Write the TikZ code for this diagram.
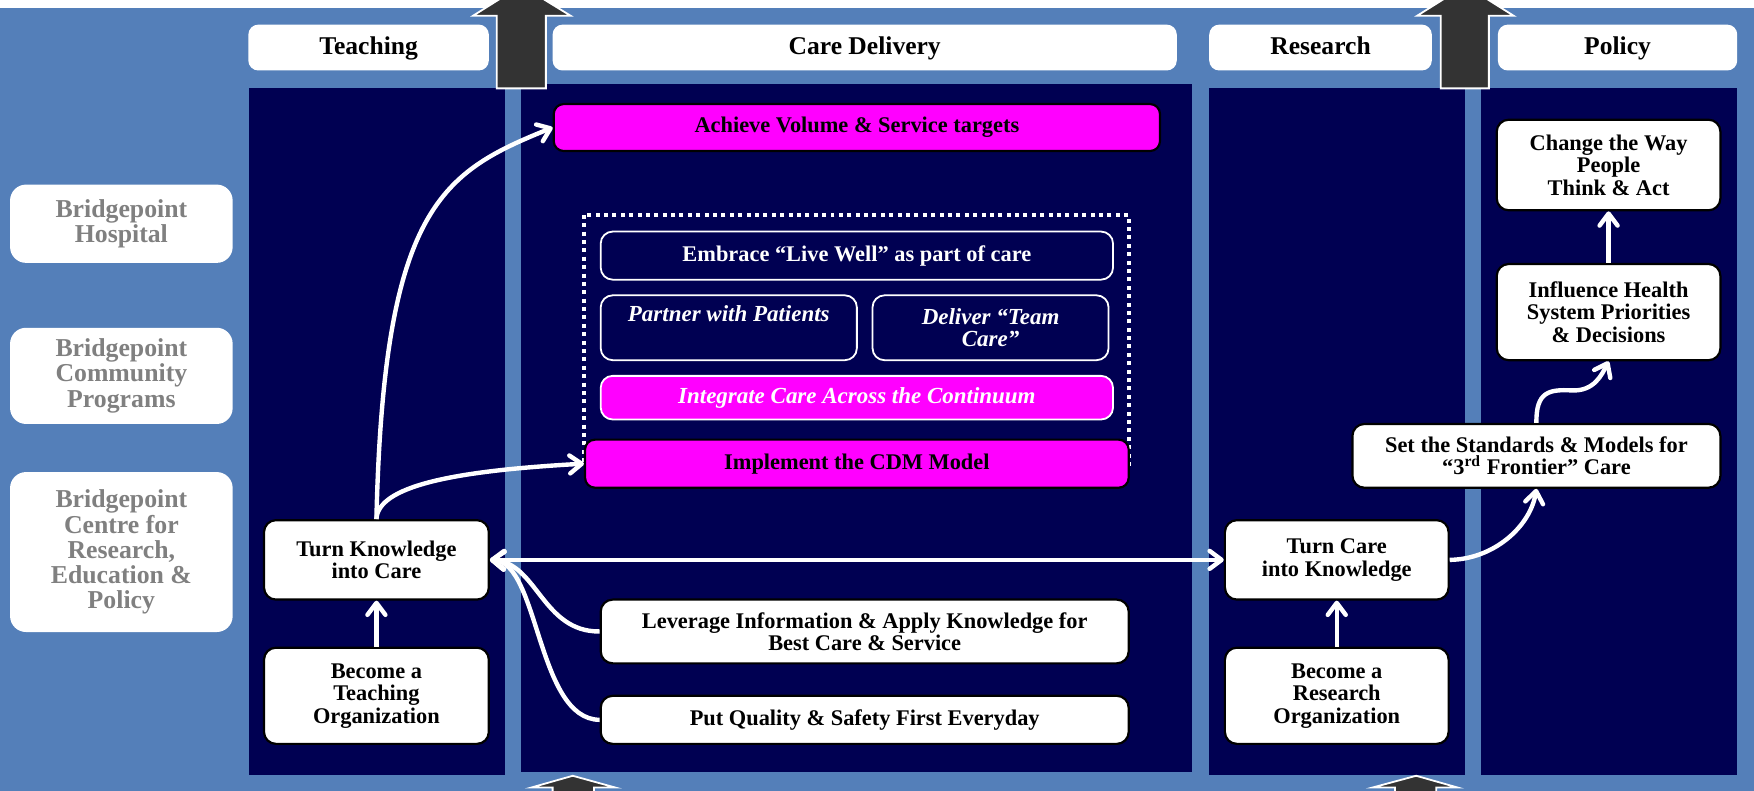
\documentclass[tikz,border=0pt]{standalone}
\usepackage{fontspec}
\setmainfont{Liberation Serif}
\usetikzlibrary{arrows.meta}
\definecolor{bgblue}{RGB}{84,127,185}
\definecolor{navy}{RGB}{0,0,82}
\definecolor{mag}{RGB}{255,0,255}
\definecolor{bigarrow}{RGB}{51,51,51}
\definecolor{labgray}{RGB}{128,128,128}
\tikzset{mytip/.tip={Straight Barb[length=6pt,width=9pt,round]}}
\begin{document}
\begin{tikzpicture}[x=0.56pt,y=-0.56pt,
  sz/.style 2 args={minimum width=#1*0.56pt, minimum height=#2*0.56pt},
  hdr/.style={fill=white, rounded corners=5pt, inner sep=0pt, text height=10pt, text depth=3pt, font=\bfseries\fontsize{12.8}{14}\selectfont},
  side/.style={fill=white, rounded corners=8pt, inner sep=0pt, text=labgray, align=center, font=\bfseries\fontsize{12.9}{12.6}\selectfont},
  wbox/.style={fill=white, draw=black, line width=1.1pt, rounded corners=6pt, inner sep=0pt, align=center, font=\bfseries\fontsize{11.2}{11.2}\selectfont},
  nbox/.style={fill=navy, draw=white, line width=0.9pt, rounded corners=6pt, inner sep=0pt, align=center, text=white, font=\bfseries\fontsize{11.2}{11.2}\selectfont},
  nibox/.style={nbox, font=\bfseries\itshape\fontsize{11.5}{11.2}\selectfont},
  mbox/.style={fill=mag, draw=black, line width=1.1pt, rounded corners=5pt, inner sep=0pt, align=center, font=\bfseries\fontsize{11.2}{11.2}\selectfont},
  mibox/.style={fill=mag, draw=white, line width=0.9pt, rounded corners=6pt, inner sep=0pt, align=center, text=white, font=\bfseries\itshape\fontsize{11.5}{11.2}\selectfont},
  conn/.style={draw=white, line width=2.2pt, -mytip},
  dconn/.style={draw=white, line width=2.2pt, mytip-mytip},
  bigarr/.style={fill=bigarrow, draw=white, line width=0.9pt},
  dotbox/.style={draw=white, line width=2pt, dash pattern=on 2pt off 2.2pt}
]
\useasboundingbox (0,0) rectangle (1568,707);
\begin{scope}
\clip (0,0) rectangle (1568,707);
\fill[white] (0,0) rectangle (1568,707);
\fill[bgblue] (0,7) rectangle (1568,707);
% columns
\fill[navy] (223,79) rectangle (451,693);
\fill[navy] (466,75) rectangle (1066,690);
\fill[navy] (1081,79) rectangle (1310,693);
\fill[navy] (1324,79) rectangle (1553,693);
% big arrows
\filldraw[bigarr] (444,79) -- (444,14) -- (423,14) -- (466,-13) -- (510,14) -- (488,14) -- (488,79) -- cycle;
\filldraw[bigarr] (1288,79) -- (1288,14) -- (1267,14) -- (1310,-13) -- (1353,14) -- (1331,14) -- (1331,79) -- cycle;
\filldraw[bigarr] (494,720) -- (494,704) -- (475,704) -- (512,693.5) -- (550,704) -- (531,704) -- (531,720) -- cycle;
\filldraw[bigarr] (1247,720) -- (1247,704) -- (1227,704) -- (1266,693.5) -- (1303,704) -- (1284,704) -- (1284,720) -- cycle;
\end{scope}
% headers
\node[hdr, sz={215}{41}] (hT) at (329.5,42.5) {Teaching};
\node[hdr, sz={558}{41}] (hC) at (773,42.5) {Care Delivery};
\node[hdr, sz={199}{41}] (hR) at (1180.5,42.5) {Research};
\node[hdr, sz={214}{41}] (hP) at (1446,42.5) {Policy};
% side labels
\node[side, sz={199}{70}] (sH) at (108.5,200) {Bridgepoint\\Hospital};
\node[side, sz={199}{86}] (sC) at (108.5,336) {Bridgepoint\\Community\\Programs};
\node[side, sz={199}{143}] (sR) at (108.5,493.5) {Bridgepoint\\Centre for\\Research,\\Education \&\\Policy};
% care delivery
\node[mbox, sz={542}{42}] (ach) at (766,114) {Achieve Volume \& Service targets};
\draw[dotbox] (522,192) rectangle (1009,417);
\node[nbox, sz={458}{43}] (emb) at (766,228.5) {Embrace “Live Well” as part of care};
\node[nibox, sz={229}{58}] (part) at (651.5,293) {Partner with Patients\\\strut};
\node[nibox, sz={211}{58}] (deliv) at (885.5,293) {Deliver “Team\\Care”};
\node[mibox, sz={458}{39}] (integ) at (766,355.5) {Integrate Care Across the Continuum};
\node[mbox, sz={486}{43}] (impl) at (766,414.5) {Implement the CDM Model};
\node[wbox, sz={472}{57}] (lev) at (773,564.5) {Leverage Information \& Apply Knowledge for\\Best Care \& Service};
\node[wbox, sz={472}{43}] (qual) at (773,643.5) {Put Quality \& Safety First Everyday};
% teaching
\node[wbox, sz={201}{71}] (tk) at (336.5,500.5) {Turn Knowledge\\into Care};
\node[wbox, sz={201}{86}] (bt) at (336.5,622) {Become a\\Teaching\\Organization};
% research
\node[wbox, sz={200}{71}] (tc) at (1195,500.5) {Turn Care\\into Knowledge};
\node[wbox, sz={200}{86}] (br) at (1195,622) {Become a\\Research\\Organization};
% policy
\node[wbox, sz={329}{57}] (std) at (1373.5,407.5) {Set the Standards \& Models for\\“3\textsuperscript{rd} Frontier” Care};
\node[wbox, sz={200}{86}] (inf) at (1438,279) {Influence Health\\System Priorities\\\& Decisions};
\node[wbox, sz={200}{81}] (chg) at (1438,147.5) {Change the Way\\People\\Think \& Act};
\coordinate (s1) at (1405,349);
% connectors
\draw[conn] (tk.north) .. controls (343,185) and (395,154) .. (ach.west);
\draw[conn] (tk.north) .. controls (338,435) and (403,421) .. (impl.west);
\draw[dconn] (tk.east) -- (tc.west);
\draw[conn] (lev.west) .. controls (485,565) and (480,503) .. (tk.east);
\draw[conn] (qual.west) .. controls (480,643) and (482,503) .. (tk.east);
\draw[conn] (bt.north) -- (tk.south);
\draw[conn] (br.north) -- (tc.south);
\draw[conn] (tc.east) .. controls (1335,500) and (1368,471) .. (std.south);
\draw[conn] (std.north) .. controls (1373,350) and (1385,348) .. (s1) .. controls (1425,350) and (1432,335) .. (inf.south);
\draw[conn] (inf.north) -- (chg.south);
\end{tikzpicture}
\end{document}
